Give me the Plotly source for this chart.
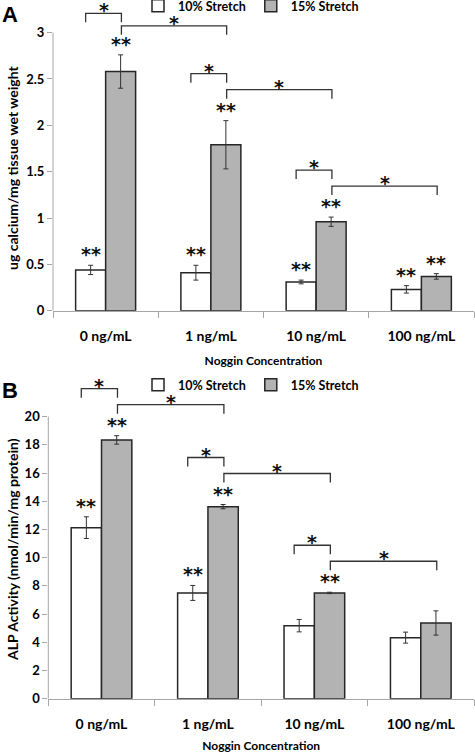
import plotly.graph_objects as go

# ---------------- data ----------------
categories = ["0 ng/mL", "1 ng/mL", "10 ng/mL", "100 ng/mL"]
series_names = ["10% Stretch", "15% Stretch"]

calcium_10 = [0.44, 0.41, 0.31, 0.23]
calcium_10_err = [0.05, 0.08, 0.02, 0.04]
calcium_15 = [2.58, 1.79, 0.96, 0.37]
calcium_15_err = [0.18, 0.26, 0.05, 0.03]

alp_10 = [12.13, 7.50, 5.18, 4.33]
alp_10_err = [0.77, 0.53, 0.44, 0.39]
alp_15 = [18.35, 13.62, 7.50, 5.37]
alp_15_err = [0.30, 0.15, 0.05, 0.86]

calcium_ticks = [0, 0.5, 1, 1.5, 2, 2.5, 3]
calcium_tick_text = ["0", "0.5", "1", "1.5", "2", "2.5", "3"]
alp_ticks = [0, 2, 4, 6, 8, 10, 12, 14, 16, 18, 20]
alp_tick_text = [str(v) for v in alp_ticks]

calcium_10_sig = ["**", "**", "**", "**"]
calcium_15_sig = ["**", "**", "**", "**"]
alp_10_sig = ["**", "**", "", ""]
alp_15_sig = ["**", "**", "**", ""]

# significance comparisons: (category_a, series_a, category_b, series_b)
calcium_pairs = [(0, 0, 0, 1), (0, 1, 1, 1), (1, 0, 1, 1), (1, 1, 2, 1), (2, 0, 2, 1), (2, 1, 3, 1)]
alp_pairs = [(0, 0, 0, 1), (0, 1, 1, 1), (1, 0, 1, 1), (1, 1, 2, 1), (2, 0, 2, 1), (2, 1, 3, 1)]

# ---------------- style ----------------
W, H = 475, 753
FONT = "Lato"
STAR_FONT = "DejaVu Sans"
WHITE_FILL = "#ffffff"
GRAY_FILL = "#b3b3b3"
OUTLINE = "#262626"
AXIS_GRAY = "#a6a6a6"

BARGAP = 0.43
BAR_OFF = (1 - BARGAP) / 4  # centre offset of each bar in a pair

panels = [
    dict(name="A", xa="x", ya="y", legend="legend", letter_top=0, title_standoff=14,
         vals=[calcium_10, calcium_15], errs=[calcium_10_err, calcium_15_err],
         sigs=[calcium_10_sig, calcium_15_sig], pairs=calcium_pairs,
         ticks=calcium_ticks, ticktext=calcium_tick_text, top=3.3,
         xdom=[53 / W, 474 / W], ydom_px=(310.7, 4.8),
         ytitle="ug calcium/mg tissue wet weight", ytitle_y=168),
    dict(name="B", xa="x2", ya="y2", legend="legend2", letter_top=376, title_standoff=15,
         vals=[alp_10, alp_15], errs=[alp_10_err, alp_15_err],
         sigs=[alp_10_sig, alp_15_sig], pairs=alp_pairs,
         ticks=alp_ticks, ticktext=alp_tick_text, top=22.6,
         xdom=[48.3 / W, 474 / W], ydom_px=(698.7, 380.0),
         ytitle="ALP Activity (nmol/min/mg protein)", ytitle_y=550),
]

fig = go.Figure()
shapes = []
annotations = []
layout_axes = {}

for p in panels:
    bot_px, top_px = p["ydom_px"]
    px_per_unit = (bot_px - top_px) / p["top"]
    for s in range(2):
        fig.add_trace(go.Bar(
            x=categories, y=p["vals"][s], name=series_names[s],
            xaxis=p["xa"], yaxis=p["ya"], legend=p["legend"],
            marker=dict(color=[WHITE_FILL, GRAY_FILL][s], line=dict(color=OUTLINE, width=1.5)),
            error_y=dict(type="data", array=p["errs"][s], color="#333333", thickness=1, width=2.5),
        ))
        for i, lab in enumerate(p["sigs"][s]):
            if lab:
                annotations.append(dict(
                    x=i + (-BAR_OFF if s == 0 else BAR_OFF),
                    y=p["vals"][s][i] + p["errs"][s][i],
                    xref=p["xa"], yref=p["ya"], text=lab, showarrow=False,
                    yanchor="bottom", yshift=-2,
                    font=dict(family=STAR_FONT, size=19, color="#111111", weight="bold"),
                ))
    # significance brackets
    gray_top = [v + e for v, e in zip(p["vals"][1], p["errs"][1])]
    leg = 9 / px_per_unit
    cap_within = p["top"] - 8.5 / px_per_unit
    cap_between = p["top"] - 21 / px_per_unit
    for (ca, sa, cb, sb) in p["pairs"]:
        xa = ca + (-0.19 if sa == 0 else 0.15)
        xb = cb + (-0.19 if sb == 0 else 0.15)
        if ca == cb:
            yb = min(gray_top[ca] + 47 / px_per_unit, cap_within)
        else:
            yb = min(max(gray_top[ca], gray_top[cb]) + 31 / px_per_unit, cap_between)
        shapes.append(dict(
            type="path", xref=p["xa"], yref=p["ya"],
            path=f"M {xa},{yb - leg} L {xa},{yb} L {xb},{yb} L {xb},{yb - leg}",
            line=dict(color="#333333", width=1.3),
        ))
        annotations.append(dict(
            x=(xa + xb) / 2, y=yb, xref=p["xa"], yref=p["ya"], text="*",
            showarrow=False, yanchor="bottom", yshift=-10,
            font=dict(family=STAR_FONT, size=19, color="#111111", weight="bold"),
        ))
    # y axis line only up to the last tick
    shapes.append(dict(type="line", xref=p["xa"] + " domain", yref=p["ya"],
                       x0=0, x1=0, y0=0, y1=p["ticks"][-1],
                       line=dict(color=AXIS_GRAY, width=1)))
    # panel letter
    annotations.append(dict(
        x=0, y=1 - p["letter_top"] / H,
        xref="paper", yref="paper", xanchor="left", yanchor="top",
        text=f"<b>{p['name']}</b>", showarrow=False,
        font=dict(family="Liberation Sans", size=22, color="black"),
    ))
    # y title
    annotations.append(dict(
        x=12 / W, y=1 - p["ytitle_y"] / H, xref="paper", yref="paper",
        text=p["ytitle"], textangle=-90, showarrow=False,
        xanchor="center", yanchor="middle",
        font=dict(family=FONT, size=14, color="black", weight="bold"),
    ))

    xkey = "xaxis" if p["xa"] == "x" else "xaxis2"
    ykey = "yaxis" if p["ya"] == "y" else "yaxis2"
    layout_axes[xkey] = dict(
        domain=p["xdom"], anchor=p["ya"], type="category", categoryarray=categories,
        range=[-0.5, 3.5], tickson="boundaries", ticks="outside", ticklen=6,
        tickcolor=AXIS_GRAY, showline=True, linecolor=AXIS_GRAY, linewidth=1,
        showgrid=False, zeroline=False, ticklabelstandoff=12, automargin=False,
        tickfont=dict(family=FONT, size=14, color="black", weight="bold"),
        title=dict(text="Noggin Concentration", standoff=p["title_standoff"],
                   font=dict(family=FONT, size=12, color="black", weight="bold")),
    )
    layout_axes[ykey] = dict(
        domain=[1 - bot_px / H, 1 - top_px / H], anchor=p["xa"], range=[0, p["top"]],
        tickvals=p["ticks"], ticktext=p["ticktext"], ticks="outside", ticklen=5,
        tickcolor=AXIS_GRAY, showline=False, showgrid=False, zeroline=False,
        automargin=False,
        tickfont=dict(family=FONT, size=13, color="black", weight="bold"),
    )

legend_style = dict(orientation="h", xanchor="left", yanchor="middle",
                    bgcolor="rgba(0,0,0,0)", tracegroupgap=0,
                    font=dict(family=FONT, size=12.5, color="black", weight="bold"))

fig.update_layout(
    width=W, height=H, margin=dict(l=0, r=0, t=0, b=0, autoexpand=False),
    paper_bgcolor="white", plot_bgcolor="white",
    barmode="group", bargap=BARGAP, bargroupgap=0,
    showlegend=True,
    legend=dict(x=138 / W, y=1 - 6 / H, **legend_style),
    legend2=dict(x=138 / W, y=1 - 385 / H, **legend_style),
    shapes=shapes, annotations=annotations,
    font=dict(family=FONT, color="black"),
    **layout_axes,
)

fig.write_html("out.html", config={"displayModeBar": False},
               post_script="document.body.style.margin='0';")
